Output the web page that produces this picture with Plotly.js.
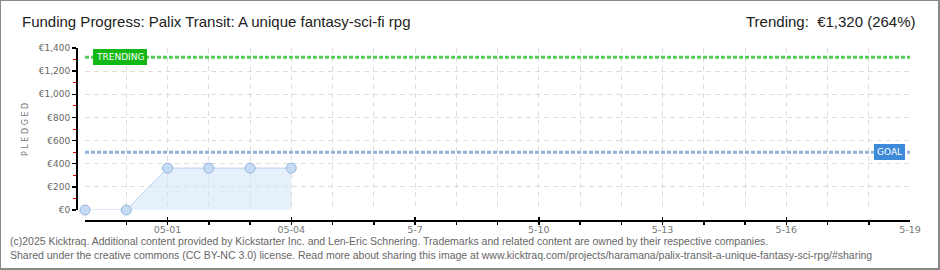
<!DOCTYPE html>
<html><head><meta charset="utf-8">
<script src="https://cdn.plot.ly/plotly-3.0.1.min.js"></script>
<style>
html,body{margin:0;padding:0;background:#fff;}
#wrap{width:940px;height:270px;box-sizing:border-box;border:1px solid #888;border-right-width:2px;border-bottom-width:2px;overflow:hidden;position:relative;}
#chart{position:absolute;left:-1px;top:-1px;}
</style>
</head><body>
<div id="wrap"><div id="chart"></div></div>
<script>
// ---- data ----
const dates = ['2025-04-29','2025-04-30','2025-05-01','2025-05-02','2025-05-03','2025-05-04'];
const pledged = [0, 0, 362, 362, 362, 362];
const tickDates = ['2025-04-29','2025-04-30','2025-05-01','2025-05-02','2025-05-03','2025-05-04','2025-05-05','2025-05-06','2025-05-07','2025-05-08','2025-05-09','2025-05-10','2025-05-11','2025-05-12','2025-05-13','2025-05-14','2025-05-15','2025-05-16','2025-05-17','2025-05-18','2025-05-19'];
const tickLabels = ['','','05-01','','','05-04','','','5-7','','','5-10','','','5-13','','','5-16','','','5-19'];
const yTickVals = [0,200,400,600,800,1000,1200,1400];
const yTickLabels = ['€0','€200','€400','€600','€800','€1,000','€1,200','€1,400'];
const trendingValue = 1320;
const goalValue = 500;
const titleText = 'Funding Progress: Palix Transit: A unique fantasy-sci-fi rpg';
const trendingText = 'Trending:  €1,320 (264%)';
const footer1 = '(c)2025 Kicktraq. Additional content provided by Kickstarter Inc. and Len-Eric Schnering. Trademarks and related content are owned by their respective companies.';
const footer2 = 'Shared under the creative commons (CC BY-NC 3.0) license. Read more about sharing this image at www.kicktraq.com/projects/haramana/palix-transit-a-unique-fantasy-sci-rpg/#sharing';

// ---- geometry helpers (paper coords) ----
const L = 76, R = 910, T = 48, B = 220;
const px = x => (x - L) / (R - L);
const py = y => (B - y) / (B - T);

const trace = {
  x: dates, y: pledged, type: 'scatter', mode: 'lines+markers',
  fill: 'tozeroy', fillcolor: 'rgba(210,227,248,0.55)',
  line: {color: '#b9d3f1', width: 1},
  marker: {size: 10, color: '#c6dcf6', line: {color: '#95b5db', width: 1}},
  cliponaxis: false, hoverinfo: 'skip'
};

const tickFont = {family: 'DejaVu Sans, sans-serif', size: 9, color: '#666'};

const layout = {
  width: 940, height: 270,
  margin: {l: L, r: 940 - R, t: T, b: 270 - B},
  paper_bgcolor: 'rgba(0,0,0,0)', plot_bgcolor: 'rgba(0,0,0,0)',
  showlegend: false,
  xaxis: {
    type: 'date', range: [tickDates[0], tickDates[tickDates.length - 1]],
    domain: [px(85), 1], anchor: 'free', position: 0,
    tickmode: 'array', tickvals: tickDates, ticktext: tickLabels,
    ticks: 'inside', ticklen: 3, tickcolor: '#000', tickwidth: 1.5,
    minor: {tickmode: 'array', tickvals: tickDates, ticks: 'outside', ticklen: 3, tickcolor: '#000', tickwidth: 1.5, showgrid: false},
    showline: true, linecolor: '#000', linewidth: 1.5,
    showgrid: true, gridcolor: '#dddddd', griddash: '5px,4px', gridwidth: 1,
    zeroline: false, tickfont: {family: 'DejaVu Sans, sans-serif', size: 9.5, color: '#777'}
  },
  yaxis: {
    range: [0, 1400], domain: [py(210), 1], anchor: 'free', position: 0,
    tickmode: 'array', tickvals: yTickVals, ticktext: yTickLabels,
    ticks: 'outside', ticklen: 4, tickcolor: '#000', tickwidth: 1.5,
    minor: {dtick: 100, tick0: 0, ticks: 'outside', ticklen: 3, tickcolor: '#e00', tickwidth: 1, showgrid: false},
    showline: true, linecolor: '#000', linewidth: 1.5,
    showgrid: true, gridcolor: '#dddddd', griddash: '5px,4px', gridwidth: 1,
    zeroline: false, tickfont: tickFont
  },
  shapes: [
    {type: 'line', xref: 'x domain', yref: 'y', x0: 0, x1: 1, y0: trendingValue, y1: trendingValue,
     line: {color: '#55cc55', width: 3, dash: '4px,2px'}},
    {type: 'line', xref: 'x domain', yref: 'y', x0: 0, x1: 1, y0: goalValue, y1: goalValue,
     line: {color: '#92b2dc', width: 3, dash: '4px,2px'}}
  ],
  annotations: [
    {xref: 'paper', yref: 'y', x: px(93), y: trendingValue, xanchor: 'left', yanchor: 'middle',
     text: 'TRENDING', showarrow: false, bgcolor: '#14b814', bordercolor: '#14b814', borderpad: 2,
     font: {family: 'DejaVu Sans, sans-serif', size: 9, color: '#fff'}},
    {xref: 'paper', yref: 'y', x: px(905), y: goalValue, xanchor: 'right', yanchor: 'middle',
     text: 'GOAL', showarrow: false, bgcolor: '#3c8ad8', bordercolor: '#3c8ad8', borderpad: 2,
     font: {family: 'DejaVu Sans, sans-serif', size: 9, color: '#fff'}},
    {xref: 'paper', yref: 'paper', x: px(20), y: py(22), xanchor: 'left', yanchor: 'middle',
     text: titleText, showarrow: false,
     font: {family: 'Liberation Sans Narrow, Arial Narrow, sans-serif', size: 15, color: '#222'}},
    {xref: 'paper', yref: 'paper', x: px(918), y: py(22), xanchor: 'right', yanchor: 'middle',
     text: trendingText, showarrow: false,
     font: {family: 'Liberation Sans Narrow, Arial Narrow, sans-serif', size: 15, color: '#222'}},
    {xref: 'paper', yref: 'paper', x: px(25), y: py(130), xanchor: 'center', yanchor: 'middle',
     text: 'P L E D G E D', textangle: -90, showarrow: false,
     font: {family: 'DejaVu Sans, sans-serif', size: 8, color: '#777'}},
    {xref: 'paper', yref: 'paper', x: px(8), y: py(241), xanchor: 'left', yanchor: 'middle',
     text: footer1, showarrow: false,
     font: {family: 'Liberation Sans Narrow, sans-serif', size: 10.5, color: '#666'}},
    {xref: 'paper', yref: 'paper', x: px(8), y: py(255), xanchor: 'left', yanchor: 'middle',
     text: footer2, showarrow: false,
     font: {family: 'Liberation Sans Narrow, sans-serif', size: 10.5, color: '#666'}}
  ]
};

Plotly.newPlot('chart', [trace], layout, {displayModeBar: false, staticPlot: true});
</script>
</body></html>
